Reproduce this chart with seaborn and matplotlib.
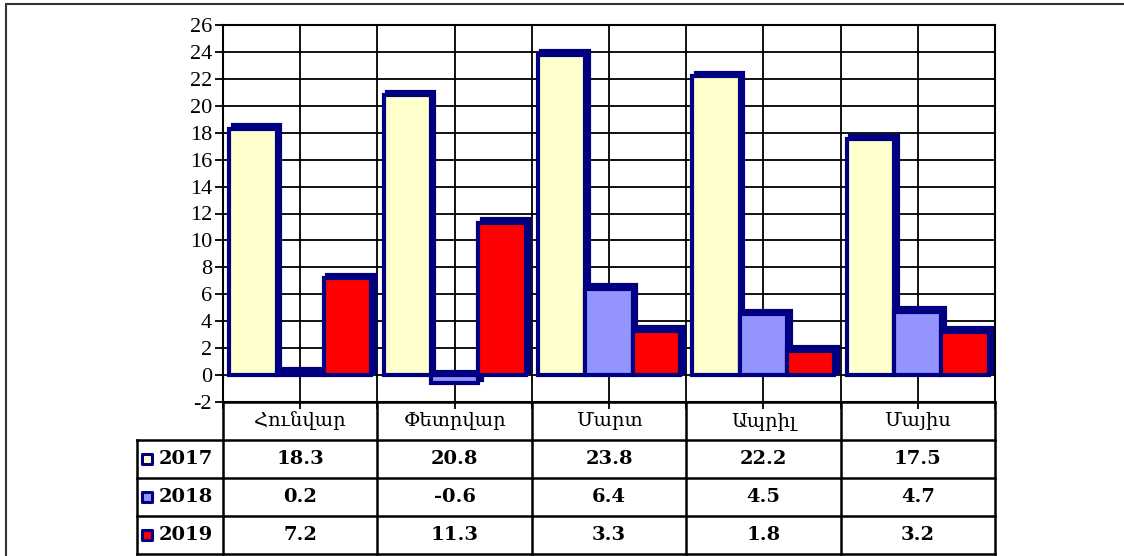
import matplotlib
matplotlib.use("Agg")
import numpy as np
import pandas as pd
import seaborn as sns
import matplotlib.pyplot as plt
from matplotlib.patches import Rectangle
from matplotlib.transforms import offset_copy, blended_transform_factory

# ---- data ----
months = ["Հունվար", "Փետրվար", "Մարտ", "Ապրիլ", "Մայիս"]
years = ["2017", "2018", "2019"]
v2017 = [18.3, 20.8, 23.8, 22.2, 17.5]
v2018 = [0.2, -0.6, 6.4, 4.5, 4.7]
v2019 = [7.2, 11.3, 3.3, 1.8, 3.2]
yticks = list(range(-2, 27, 2))

colors = ["#FFFFCC", "#9494FF", "#FF0000"]
navy = "#000080"

sns.set_style("white")
plt.rcParams['font.family'] = ['Liberation Serif', 'DejaVu Serif']
plt.rcParams.update({"text.color": "black", "xtick.color": "black",
                     "ytick.color": "black", "axes.labelcolor": "black",
                     "axes.edgecolor": "black"})

fig = plt.figure(figsize=(11.24, 5.56), dpi=100)
ax = fig.add_axes([223 / 1124, 1 - 402 / 556, 772 / 1124, 377 / 556])

df = pd.DataFrame({
    "month": months * 3,
    "year": [y for y in years for _ in months],
    "value": v2017 + v2018 + v2019,
})

sns.barplot(data=df, x="month", y="value", hue="year", order=months,
            hue_order=years, palette=dict(zip(years, colors)), saturation=1,
            width=0.92, gap=0, edgecolor=navy, linewidth=3, legend=False,
            ax=ax, zorder=3)

# 3D-like depth: navy copies shifted up-right behind each bar
bars = list(ax.patches)
shift = offset_copy(ax.transData, fig=fig, x=3.5, y=3.5, units='dots')
for p in bars:
    r = Rectangle(p.get_xy(), p.get_width(), p.get_height(), facecolor=navy,
                  edgecolor=navy, lw=3, transform=shift, zorder=2.5)
    ax.add_patch(r)

ax.set_xlim(-0.5, len(months) - 0.5)
ax.set_ylim(-2, 26)
ax.set_yticks(yticks)
ax.set_yticklabels([str(t) for t in yticks], fontsize=16, color="black")
xt = np.arange(-0.5, len(months), 0.5)
ax.set_xticks(xt)
ax.set_xticklabels([""] * len(xt))
ax.set_xlabel("")
ax.set_ylabel("")
ax.set_axisbelow(True)
ax.grid(True, color="black", lw=1.3)
ax.tick_params(axis="y", direction="out", length=6, width=1.3, pad=2, left=True,
               colors="black")
ax.tick_params(axis="x", direction="out", length=5, width=1.3, bottom=True,
               colors="black")
for s in ax.spines.values():
    s.set_visible(True)
    s.set_color("black")
    s.set_linewidth(1.5)

# ---- data table ----
trans = blended_transform_factory(ax.transData, ax.transAxes)
rows = [0, -0.1008, -0.2016, -0.3024, -0.4032]
xl = -0.5 - 86 / 154.4
xr = len(months) - 0.5
lk = dict(color="black", lw=1.8, transform=trans, clip_on=False, solid_capstyle="projecting")
ax.plot([-0.5, xr], [rows[0], rows[0]], **lk)
for yy in rows[1:]:
    ax.plot([xl, xr], [yy, yy], **lk)
for i in range(len(months) + 1):
    ax.plot([i - 0.5, i - 0.5], [rows[0], rows[-1]], **lk)
ax.plot([xl, xl], [rows[1], rows[-1]], **lk)

for i, m in enumerate(months):
    ax.text(i, (rows[0] + rows[1]) / 2, m, transform=trans, ha="center",
            va="center", fontsize=14, family=['DejaVu Serif'], color="black")

series = [v2017, v2018, v2019]
for r, (yname, vals, c) in enumerate(zip(years, series, colors)):
    yc = (rows[r + 1] + rows[r + 2]) / 2
    ax.scatter([-0.5 - 76 / 154.4], [yc], marker="s", s=60, facecolor=c,
               edgecolor=navy, linewidths=2.2, transform=trans, clip_on=False, zorder=5)
    ax.text(-0.5 - 64 / 154.4, yc, yname, transform=trans, ha="left", va="center",
            fontsize=14, fontweight="bold", family=['DejaVu Serif'], color="black")
    for i, v in enumerate(vals):
        ax.text(i, yc, f"{v:.1f}", transform=trans, ha="center", va="center",
                fontsize=14, fontweight="bold", family=['DejaVu Serif'], color="black")

# outer chart frame
fig.add_artist(Rectangle((6 / 1124, -0.1), 1.2, 1 - 4 / 556 + 0.1,
                         transform=fig.transFigure, fill=False,
                         edgecolor="#333333", lw=1.5))

fig.savefig("out.png", dpi=100)
